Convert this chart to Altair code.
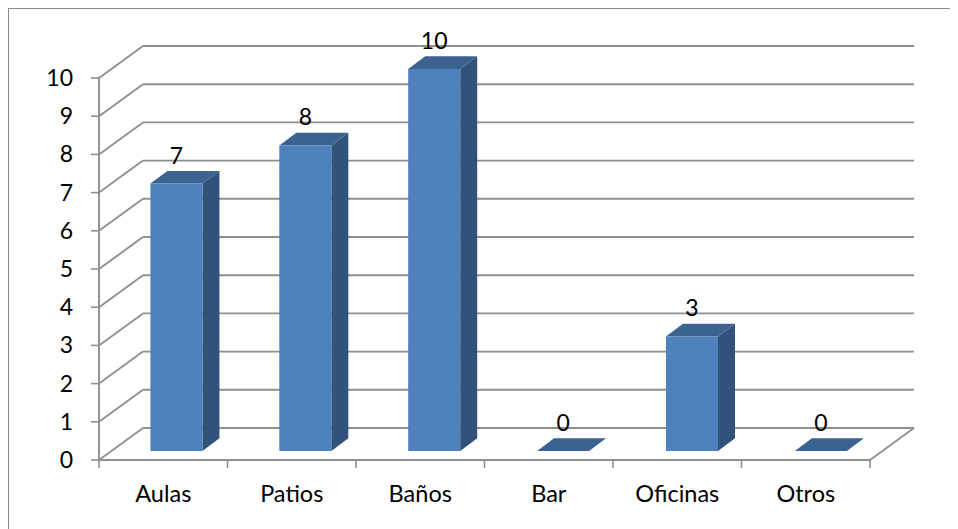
import altair as alt
import pandas as pd

categories = ["Aulas", "Patios", "Baños", "Bar", "Oficinas", "Otros"]
values = [7, 8, 10, 0, 3, 0]
value_ticks = list(range(0, 11))

# projection of the fake 3D box, in scale units
DEPTH_U, DEPTH_V = 44 / 128.5, 32 / 38.2
BAR_DU, BAR_DV = 17 / 128.5, 12.7 / 38.2
BAR_L, BAR_R, BAR_BASE = 0.40, 0.805, 9 / 38.2
BAR_STEP = 1.003

FONT = "Lato"
GRID = "#8f8f8f"

x_scale = alt.Scale(domain=[-91 / 128.5, 851 / 128.5], nice=False, zero=False)
y_scale = alt.Scale(domain=[-69 / 38.2, 452 / 38.2], nice=False, zero=False)


def X(f="u"):
    return alt.X(f, type="quantitative", scale=x_scale, axis=None, title=None)


def Y(f="v"):
    return alt.Y(f, type="quantitative", scale=y_scale, axis=None, title=None)


n = len(categories)
seg = []
for t in value_ticks:
    seg.append(dict(u=DEPTH_U, v=t + DEPTH_V, u2=n + DEPTH_U, v2=t + DEPTH_V))  # back wall grid
    seg.append(dict(u=0, v=t, u2=DEPTH_U, v2=t + DEPTH_V))  # side wall grid
seg.append(dict(u=n, v=0, u2=n + DEPTH_U, v2=DEPTH_V))
seg.append(dict(u=0, v=0, u2=0, v2=value_ticks[-1]))
seg.append(dict(u=0, v=0, u2=n, v2=0))
frame = (
    alt.Chart(pd.DataFrame(seg))
    .mark_rule(color=GRID, strokeWidth=1.9)
    .encode(x=X(), y=Y(), x2="u2:Q", y2="v2:Q")
)

ticks_y = (
    alt.Chart(pd.DataFrame(dict(u=[0] * len(value_ticks), u2=[-8 / 128.5] * len(value_ticks), v=value_ticks)))
    .mark_rule(color=GRID, strokeWidth=1.6)
    .encode(x=X(), x2="u2:Q", y=Y())
)
ticks_x = (
    alt.Chart(pd.DataFrame(dict(u=list(range(n + 1)), v=[0] * (n + 1), v2=[-8 / 38.2] * (n + 1))))
    .mark_rule(color=GRID, strokeWidth=1.6)
    .encode(x=X(), y=Y(), y2="v2:Q")
)

side, top, front = [], [], []
for i, (c, val) in enumerate(zip(categories, values)):
    l, r = i * BAR_STEP + BAR_L, i * BAR_STEP + BAR_R
    lo, hi = BAR_BASE, BAR_BASE + val
    side += [
        dict(c=c, u=r, v=hi, v2=lo),
        dict(c=c, u=r + BAR_DU, v=hi + BAR_DV, v2=lo + BAR_DV),
    ]
    top += [
        dict(c=c, u=l, v=hi, v2=hi),
        dict(c=c, u=l + BAR_DU, v=hi + BAR_DV, v2=hi),
        dict(c=c, u=r, v=hi + BAR_DV, v2=hi),
        dict(c=c, u=r + BAR_DU, v=hi + BAR_DV, v2=hi + BAR_DV),
    ]
    front.append(dict(c=c, u=l, u2=r, v=lo, v2=hi, mid=(l + r) / 2, val=val))

side_l = (
    alt.Chart(pd.DataFrame(side))
    .mark_area(color="#31527a", line=False)
    .encode(x=X(), y=Y(), y2="v2:Q", detail="c:N")
)
top_l = (
    alt.Chart(pd.DataFrame(top))
    .mark_area(color="#3c6290", line=False)
    .encode(x=X(), y=Y(), y2="v2:Q", detail="c:N")
)
front_df = pd.DataFrame(front)
front_l = (
    alt.Chart(front_df)
    .mark_rect(color="#4f81bd")
    .encode(x=X(), x2="u2:Q", y=Y(), y2="v2:Q")
)
value_labels = (
    alt.Chart(front_df)
    .mark_text(font=FONT, fontSize=23, color="#000000", baseline="middle", align="center", dy=-27)
    .encode(x=X("mid"), y=Y("v2"), text="val:Q")
)
y_labels = (
    alt.Chart(pd.DataFrame(dict(u=[0] * len(value_ticks), v=value_ticks)))
    .mark_text(font=FONT, fontSize=23, color="#000000", baseline="middle", align="right", dx=-26, dy=1)
    .encode(x=X(), y=Y(), text="v:Q")
)
x_labels = (
    alt.Chart(pd.DataFrame(dict(u=[i + 0.5 for i in range(n)], v=[0] * n, c=categories)))
    .mark_text(font=FONT, fontSize=23.5, color="#000000", baseline="middle", align="center", dy=35)
    .encode(x=X(), y=Y(), text="c:N")
)
border_left = (
    alt.Chart(pd.DataFrame(dict(a=[0])))
    .mark_rule(color="#8a8a8a", strokeWidth=1.5)
    .encode(x=alt.value(0.3), y=alt.value(0), y2=alt.value(521))
)
border_top = (
    alt.Chart(pd.DataFrame(dict(a=[0])))
    .mark_rule(color="#8a8a8a", strokeWidth=1.5)
    .encode(y=alt.value(0.3), x=alt.value(0), x2=alt.value(942))
)

chart = (
    alt.layer(
        border_left, border_top, frame, ticks_y, ticks_x,
        side_l, top_l, front_l, value_labels, y_labels, x_labels,
    )
    .properties(width=942, height=521, padding=0, autosize=alt.AutoSizeParams(type="none"), background="white")
    .configure_view(stroke=None)
)
chart.save("out.html", embed_options={"renderer": "svg", "actions": False})
